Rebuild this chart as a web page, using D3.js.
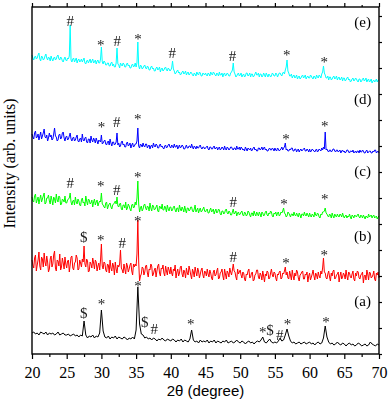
<!DOCTYPE html>
<html>
<head>
<meta charset="utf-8">
<script src="https://cdn.jsdelivr.net/npm/d3@7"></script>
<style>
html, body { margin: 0; padding: 0; background: #fff; }
svg { display: block; }
.axis text { font-family: "Liberation Serif", "Times New Roman", serif; font-size: 16px; fill: #000; }
.axis path, .axis line { stroke: #000; stroke-width: 1.2; }
.mark { font-family: "Liberation Serif", "Times New Roman", serif; font-size: 15px; fill: #1a1a1a; }
.tag { font-family: "Liberation Serif", "Times New Roman", serif; font-size: 15px; fill: #000; }
</style>
</head>
<body>
<svg id="chart" width="388" height="400"></svg>
<script>
// 2θ grids: pattern (a) read at 0.25°, the noisier ones at 0.125°
const twoTheta = d3.range(201).map((i) => 20 + i * 0.25);
const twoThetaFine = d3.range(401).map((i) => 20 + i * 0.125);

// raw intensities (arb. units)
const patternA = [
	21,22,20,21,19,22,21,20,22,19,21,20,21,19,20,22,19,20,21,19,
	19,20,18,19,20,18,19,17,19,18,33,19,16,18,17,19,16,18,17,21,
	44,23,17,16,18,15,17,16,18,15,17,16,15,17,16,14,16,15,17,15,
	24,67,30,20,19,16,17,15,16,14,16,15,13,15,14,16,14,13,15,14,
	13,15,14,12,14,13,15,12,14,13,12,15,24,14,12,13,11,14,12,13,
	12,14,11,13,12,14,11,13,12,11,13,12,14,11,12,13,11,12,14,12,
	11,13,12,10,12,13,11,12,10,12,13,12,14,17,12,11,13,15,12,11,
	12,11,13,16,13,14,19,25,18,13,11,12,10,11,12,10,11,12,10,11,
	12,10,11,9,11,12,10,11,16,28,17,12,10,11,9,10,12,10,9,11,
	10,8,10,11,9,10,8,9,11,10,8,9,10,8,9,12,10,9,8,10,9
];
const patternB = [
	24,19,16,26,29,13,19,24,32,18,14,27,25,17,31,22,18,28,22,12,15,25,28,17,20,29,33,16,13,24,23,18,30,14,17,26,21,15,27,20,
	16,23,24,12,19,27,28,16,14,21,22,29,26,14,15,24,21,17,25,22,38,20,17,25,23,12,13,22,20,16,26,21,15,24,22,13,18,21,14,24,
	40,18,15,22,21,14,12,20,19,11,24,16,13,21,18,9,22,15,11,19,17,20,34,16,14,11,20,15,10,21,18,12,15,19,21,13,9,20,17,20,
	18,30,64,22,3,8,10,17,16,9,12,18,19,11,7,15,14,20,18,8,10,14,16,7,13,18,20,11,8,16,15,19,11,8,18,13,9,17,14,10,
	17,11,8,15,13,19,6,12,15,8,11,17,18,10,7,14,12,6,16,11,9,18,14,9,5,15,12,7,17,12,8,16,13,6,10,14,16,9,6,13,
	12,8,15,10,7,14,11,6,4,12,14,8,9,13,16,5,6,11,12,15,8,4,15,10,5,13,11,7,16,12,9,14,20,13,12,7,4,15,10,12,
	14,9,6,12,11,5,3,10,9,13,15,6,7,11,12,3,4,9,10,14,14,7,5,11,9,4,13,8,2,10,8,13,12,5,6,11,15,9,7,12,
	11,6,3,10,9,12,13,5,6,11,10,13,17,9,12,6,5,13,9,4,14,8,4,11,8,14,12,6,3,9,10,12,13,5,5,10,9,12,2,8,
	11,4,7,10,14,8,4,11,9,5,12,8,6,13,10,16,26,12,11,6,5,10,13,7,3,11,8,13,14,5,6,9,10,12,2,8,12,5,7,11,
	9,5,14,8,4,12,11,7,6,10,13,5,3,11,8,13,12,6,5,9,10,12,1,8,9,4,14,10,4,12,11,6,7,9,13,5,3,11,9,12,6
];
const patternC = [
	27,23,22,28,30,21,24,27,20,25,29,22,25,28,31,20,21,26,26,29,23,20,28,24,19,27,25,21,30,24,22,28,27,19,20,25,24,22,28,21,
	21,24,25,26,31,22,19,23,24,19,27,22,20,25,23,19,18,24,26,21,22,18,28,23,19,25,24,20,21,24,17,22,25,19,22,24,18,21,23,22,
	31,20,19,17,16,21,22,15,18,20,21,17,15,19,20,21,23,20,27,18,17,20,21,15,14,19,19,16,22,14,16,20,18,15,13,19,20,16,17,22,
	19,26,43,20,12,16,18,13,15,19,20,16,14,18,17,13,21,16,13,19,18,14,15,17,19,13,12,18,17,15,20,14,14,18,16,12,19,15,13,17,
	17,13,14,17,18,14,12,16,16,12,19,15,13,17,15,12,18,14,11,16,16,13,14,17,17,13,12,15,19,12,14,16,11,14,16,12,13,15,17,13,
	12,14,15,11,11,14,16,12,13,15,10,13,15,11,12,15,14,10,9,13,13,10,11,14,15,11,10,13,12,9,9,12,15,10,11,13,8,11,12,9,
	10,12,13,9,8,12,11,8,9,13,12,9,7,11,11,8,13,10,8,12,10,8,12,10,7,12,11,8,9,12,13,9,8,11,10,13,12,8,7,11,
	10,12,8,11,12,8,9,12,11,13,16,11,10,7,8,12,11,9,7,10,10,8,12,9,8,11,9,7,11,9,6,10,10,8,12,9,8,11,9,7,
	11,8,7,10,9,7,12,9,8,11,10,7,6,10,9,12,12,13,16,11,10,8,7,10,9,6,11,8,6,10,8,7,10,8,7,10,9,7,11,8,
	6,8,9,6,8,7,10,7,5,9,8,6,9,8,7,9,10,7,6,9,8,6,9,7,5,8,7,6,10,7,8,9,6,8,9,6,7,8,5,7,8
];
const patternD = [
	25,22,20,26,28,21,22,25,19,23,27,20,23,26,30,22,21,24,18,21,26,22,24,19,20,25,31,23,22,18,19,24,25,20,21,26,27,21,18,22,
	23,19,20,23,26,20,18,21,22,18,19,22,24,18,17,20,21,17,25,19,18,21,22,17,16,20,20,16,23,19,17,21,19,16,21,18,15,19,18,17,
	24,15,16,18,19,15,14,17,18,14,20,16,13,17,17,14,15,17,26,14,16,12,13,17,18,14,15,12,12,16,17,13,14,16,11,14,16,12,13,15,
	15,18,31,13,11,15,14,12,16,13,12,15,15,11,13,14,10,13,14,11,16,13,12,15,14,11,11,14,15,12,13,11,10,13,14,11,12,14,15,12,
	11,14,13,11,15,12,12,14,10,12,14,11,12,14,13,10,10,12,14,11,11,13,13,11,15,12,10,13,12,10,13,11,11,13,14,11,10,12,12,10,
	11,12,13,10,9,12,12,10,10,12,13,10,11,12,9,11,12,9,10,12,11,9,13,10,9,12,11,9,10,12,12,10,9,11,11,9,13,10,10,12,
	9,12,11,9,10,8,12,10,8,11,10,9,11,8,9,11,12,9,10,8,8,11,11,9,10,12,9,11,12,9,10,8,8,10,11,9,9,11,10,8,
	11,9,8,11,10,8,9,10,12,9,11,12,16,9,10,8,8,10,9,11,11,8,8,10,10,7,9,10,7,9,10,8,9,10,11,8,8,10,9,7,
	10,7,8,10,9,8,7,9,10,7,8,10,9,8,11,9,12,10,27,9,10,8,7,9,9,7,8,10,10,8,7,9,9,7,8,9,6,8,9,7,
	8,6,7,9,9,7,6,8,8,7,9,6,7,8,6,8,8,6,9,7,7,9,8,6,6,8,9,6,7,8,8,6,6,8,7,9,9,6,7,8,6
];
const patternE = [
	34,31,29,32,33,30,31,34,36,30,28,33,32,29,30,33,35,31,29,32,31,28,33,30,28,31,32,29,30,33,34,30,29,32,31,28,27,30,32,29,
	28,31,30,33,64,29,27,30,31,27,29,31,26,29,30,27,28,30,27,29,31,26,25,28,29,26,28,30,26,28,30,26,27,29,25,28,29,26,26,30,
	42,27,25,28,27,24,24,26,26,23,23,26,27,23,25,22,22,26,41,25,24,21,26,24,23,26,25,22,22,25,26,23,24,21,21,24,25,22,23,26,
	22,26,47,23,20,24,23,20,21,23,24,21,20,23,22,19,19,22,23,20,21,18,18,21,22,19,20,22,17,20,21,18,19,21,22,19,18,21,20,18,
	19,21,28,20,18,15,16,18,19,16,17,14,15,17,18,15,16,18,14,16,17,14,15,17,16,14,13,16,15,13,17,15,14,17,16,13,13,16,15,14,
	16,14,13,16,15,13,17,15,14,17,16,14,13,16,15,13,17,14,14,16,12,15,16,13,14,16,15,13,13,16,17,19,26,17,15,12,13,15,16,13,
	14,16,12,14,15,12,13,16,16,13,14,16,12,15,15,12,13,15,17,14,14,16,12,15,15,12,13,16,14,12,16,14,12,15,14,12,13,16,15,13,
	13,16,15,12,14,16,16,14,13,16,17,15,19,22,29,18,16,13,13,15,11,13,14,11,12,14,10,12,13,10,11,13,14,11,12,14,10,12,13,11,
	11,14,13,11,10,13,12,10,14,12,11,14,13,11,15,17,23,16,14,11,11,13,9,12,12,9,10,12,13,10,11,13,9,11,12,9,10,12,8,11,
	11,8,9,11,12,9,10,7,8,10,11,8,9,11,10,8,7,10,10,7,8,10,11,8,9,11,7,9,10,7,8,10,6,8,9,7,8,10,7,9,9
];

const patterns = [patternA, patternB, patternC, patternD, patternE];
const patternGrids = [twoTheta, twoThetaFine, twoThetaFine, twoThetaFine, twoThetaFine];
const sampleNames = ["(a)", "(b)", "(c)", "(d)", "(e)"];
const sampleColors = ["#000000", "#ff0000", "#00ff00", "#0000ff", "#00ffff"];
const sampleOffsets = [0, 70, 130, 195, 265];
const sampleTagLevels = [52, 117, 182, 254, 331];

// phase marks: [2θ, intensity level, symbol]
const marksA = [[27.45, 41, "$"], [30.0, 52, "*"], [35.27, 70, "*"], [36.24, 32, "$"], [37.6, 25, "#"], [42.87, 32, "*"], [53.24, 24, "*"], [54.3, 24, "$"], [55.7, 19, "#"], [56.8, 32, "*"], [62.36, 34, "*"]];
const marksB = [[27.45, 117, "$"], [29.9, 116, "*"], [33.0, 111, "#"], [35.25, 135, "*"], [49.0, 97, "#"], [56.6, 93, "*"], [62.1, 101, "*"]];
const marksC = [[25.5, 171, "#"], [29.9, 170, "*"], [32.2, 164, "#"], [35.25, 179, "*"], [49.0, 152, "#"], [56.3, 152, "*"], [62.2, 157, "*"]];
const marksD = [[30.0, 229, "*"], [32.2, 232, "#"], [35.25, 237, "*"], [56.6, 217, "*"], [62.2, 230, "*"]];
const marksE = [[25.5, 333, "#"], [29.9, 311, "*"], [32.3, 313, "#"], [35.27, 317, "*"], [40.2, 301, "#"], [48.9, 298, "#"], [56.7, 301, "*"], [62.1, 294, "*"]];
const allMarks = [marksA, marksB, marksC, marksD, marksE];

const xMajorTicks = d3.range(20, 71, 5);
const xMinorTicks = d3.range(22.5, 70, 5);
const yFrameTicks = d3.range(0, 347, 26);

const svg = d3.select("#chart");
const margin = { left: 32, top: 7, right: 9, bottom: 46 };
const width = 388;
const height = 400;

const x = d3.scaleLinear().domain([20, 70]).range([margin.left, width - margin.right]);
const y = d3.scaleLinear().domain([0, 347]).range([height - margin.bottom, margin.top]);

svg.append("defs").append("filter").attr("id", "flat").append("feOffset").attr("dx", 0).attr("dy", 0);

const line = d3
	.line()
	.x((d) => x(d[0]))
	.y((d) => y(d[1]));

patterns.forEach((values, k) => {
	const grid = patternGrids[k];
	const points = values.map((v, i) => [grid[i], v + sampleOffsets[k]]);
	svg.append("path").attr("d", line(points)).attr("fill", "none").attr("stroke", sampleColors[k]).attr("stroke-width", 1).attr("stroke-linejoin", "round");
});

// glyph centre sits at different heights above the baseline
function glyphShift(symbol) {
	return symbol === "*" ? 7 : 5;
}

// drawn through a no-op filter so the small glyphs get plain greyscale smoothing
const markLayer = svg.append("g").attr("filter", "url(#flat)");
allMarks.forEach((marks) => {
	markLayer
		.append("g")
		.selectAll("text")
		.data(marks)
		.join("text")
		.attr("class", "mark")
		.attr("text-anchor", "middle")
		.attr("x", (d) => x(d[0]))
		.attr("y", (d) => y(d[1]) + glyphShift(d[2]))
		.text((d) => d[2]);
});

markLayer
	.append("g")
	.selectAll("text")
	.data(sampleNames)
	.join("text")
	.attr("class", "tag")
	.attr("text-anchor", "middle")
	.attr("x", x(67.65))
	.attr("y", (d, i) => y(sampleTagLevels[i]) + 4)
	.text((d) => d);

// frame and ticks
const bottomAxis = svg.append("g").attr("class", "axis").attr("transform", `translate(0,${y(0)})`);
bottomAxis.call(d3.axisBottom(x).tickValues(xMajorTicks).tickSize(5).tickPadding(8).tickFormat(d3.format("d")));
bottomAxis.append("g").call(d3.axisBottom(x).tickValues(xMinorTicks).tickSize(3).tickFormat(""));
bottomAxis.selectAll(".domain").remove();

const topAxis = svg.append("g").attr("class", "axis").attr("transform", `translate(0,${y(347)})`);
topAxis.call(d3.axisTop(x).tickValues(xMajorTicks).tickSize(4).tickFormat(""));
topAxis.append("g").call(d3.axisTop(x).tickValues(xMinorTicks).tickSize(2).tickFormat(""));
topAxis.selectAll(".domain").remove();

const rightAxis = svg.append("g").attr("class", "axis").attr("transform", `translate(${x(70)},0)`);
rightAxis.call(d3.axisRight(y).tickValues(yFrameTicks).tickSize(3).tickFormat(""));
rightAxis.selectAll(".domain").remove();

svg
	.append("rect")
	.attr("x", x(20))
	.attr("y", y(347))
	.attr("width", x(70) - x(20))
	.attr("height", y(0) - y(347))
	.attr("fill", "none")
	.attr("stroke", "#000")
	.attr("stroke-width", 1.4);

svg
	.append("text")
	.attr("x", (x(20) + x(70)) / 2)
	.attr("y", 396)
	.attr("text-anchor", "middle")
	.style("font-family", "'Liberation Sans', Arial, sans-serif")
	.style("font-size", "15px")
	.text("2θ (degree)");

svg
	.append("text")
	.attr("transform", "translate(15,163.5) rotate(-90)")
	.attr("text-anchor", "middle")
	.style("font-family", "'Liberation Serif', 'Times New Roman', serif")
	.style("font-size", "16px")
	.text("Intensity (arb. units)");
</script>
</body>
</html>
